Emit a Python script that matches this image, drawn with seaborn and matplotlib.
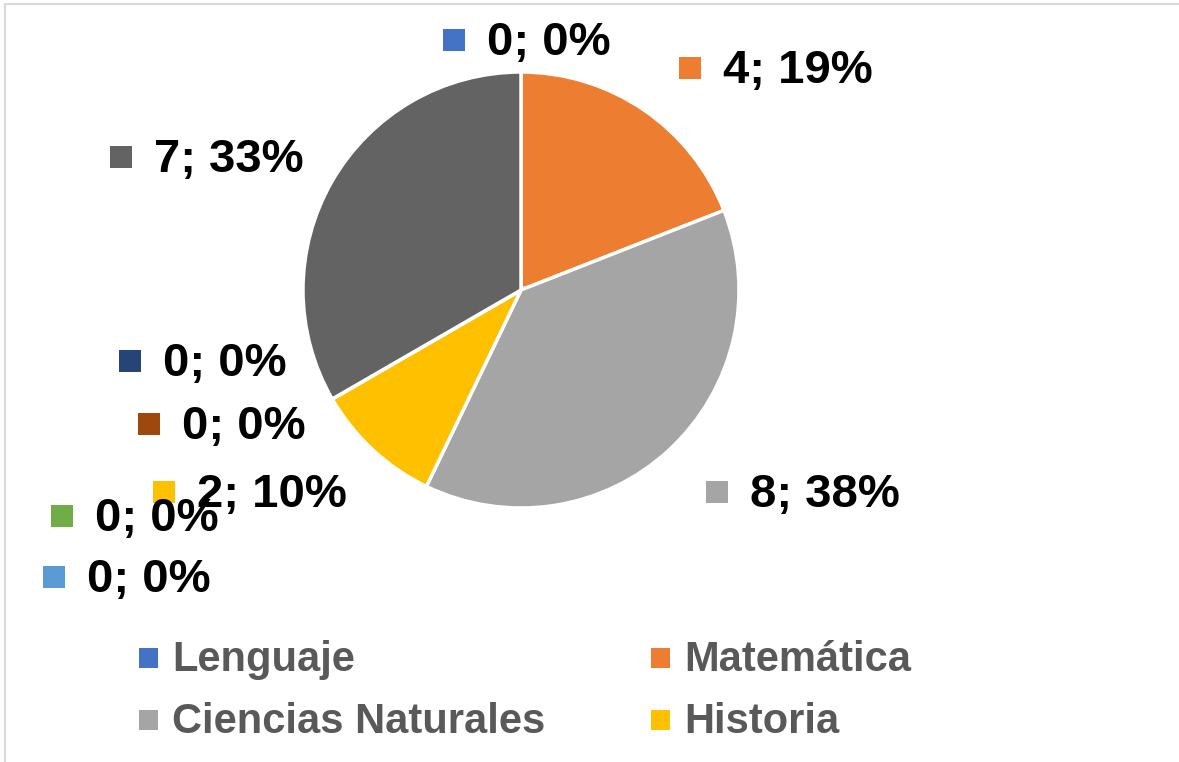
import matplotlib
matplotlib.use('Agg')
import matplotlib.pyplot as plt
from matplotlib.patches import Rectangle
import seaborn as sns

# datos
categorias = ['Lenguaje', 'Matemática', 'Ciencias Naturales', 'Historia',
              'Categoría 5', 'Categoría 6', 'Categoría 7', 'Categoría 8', 'Categoría 9']
valores = [0, 4, 8, 2, 0, 0, 0, 0, 7]
colores = ['#4472C4', '#ED7D31', '#A5A5A5', '#FFC000', '#5B9BD5',
           '#70AD47', '#264478', '#9E480E', '#636363']
leyenda = categorias[:4]

# posicion de etiquetas en pixeles (borde izq. del cuadrado, centro y)
pos_etiquetas = [(443, 40), (679, 68), (706, 492), (153, 492), (43, 577),
                 (51, 516), (119, 361), (138, 424), (110, 157)]
pos_leyenda = [(139, 658), (651, 658), (139, 720), (651, 720)]

W, H = 1179, 762
sns.set_theme(style='white')
plt.rcParams['font.family'] = ['Liberation Sans', 'DejaVu Sans']

fig = plt.figure(figsize=(W / 100, H / 100), dpi=100)
fig.patch.set_facecolor('white')

def fx(px):
    return px / W

def fy(py):
    return 1 - py / H

# marco del grafico
fig.patches.append(Rectangle((fx(5), fy(H + 20)), fx(W + 20), (H + 16) / H, fill=False,
                             edgecolor='#d9d9d9', lw=1.5, transform=fig.transFigure))

cx, cy, r = 521, 290, 218
ax = fig.add_axes([fx(cx - r), fy(cy + r), 2 * r / W, 2 * r / H])
paleta = sns.color_palette(colores)
ax.pie(valores, colors=paleta, startangle=90, counterclock=False,
       wedgeprops=dict(edgecolor='white', linewidth=2.5))
ax.set_xlim(-1, 1)
ax.set_ylim(-1, 1)
ax.axis('off')

total = sum(valores)
sq = 22
for v, c, (x, y) in zip(valores, paleta, pos_etiquetas):
    fig.patches.append(Rectangle((fx(x), fy(y + sq / 2)), sq / W, sq / H,
                                 facecolor=c, edgecolor='none', transform=fig.transFigure))
    fig.text(fx(x + 44), fy(y + 3), f'{v}; {round(100 * v / total)}%', fontsize=34,
             fontweight='bold', color='black', va='center', ha='left')

# leyenda (solo las 4 primeras categorias visibles)
for nombre, c, (x, y) in zip(leyenda, paleta, pos_leyenda):
    fig.patches.append(Rectangle((fx(x), fy(y + 10)), 19 / W, 20 / H,
                                 facecolor=c, edgecolor='none', transform=fig.transFigure))
    fig.text(fx(x + 33), fy(y + 2), nombre, fontsize=30, fontweight='bold',
             color='#595959', va='center', ha='left')

plt.savefig('out.png', dpi=100, facecolor='white')
